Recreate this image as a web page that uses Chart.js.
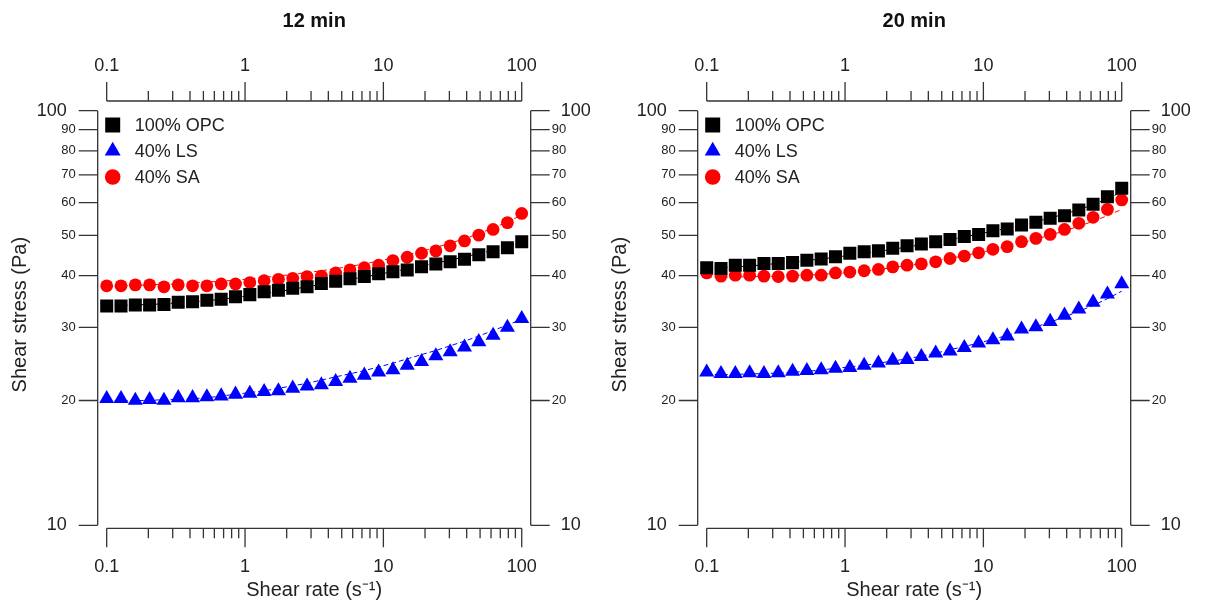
<!DOCTYPE html>
<html lang="en">

<head>
    <meta charset="utf-8">
    <title>Shear stress vs shear rate</title>
    <script src="https://cdn.jsdelivr.net/npm/chart.js"></script>
    <style>
        body { margin: 0; background: #fff; }
        #wrap { position: relative; width: 1206px; height: 608px; }
        #wrap canvas { position: absolute; top: 0; }
    </style>
</head>

<body>
    <div id="wrap">
        <canvas id="c12" width="600" height="608" style="left:0"></canvas>
        <canvas id="c20" width="600" height="608" style="left:600px"></canvas>
    </div>

    <script>
        // shear rate sweep, 30 points log-spaced 0.1 .. 100 1/s
        const shearRate = [0.1, 0.1269, 0.1610, 0.2043, 0.2593, 0.3290, 0.4175, 0.5298, 0.6723, 0.8532,
            1.083, 1.374, 1.743, 2.212, 2.807, 3.562, 4.520, 5.736, 7.279, 9.237,
            11.72, 14.87, 18.87, 23.95, 30.39, 38.57, 48.94, 62.10, 78.80, 100];

        const rateMajor = [0.1, 1, 10, 100];
        const rateMinor = [0.2, 0.3, 0.4, 0.5, 0.6, 0.7, 0.8, 0.9, 2, 3, 4, 5, 6, 7, 8, 9,
            20, 30, 40, 50, 60, 70, 80, 90];
        const stressTicks = [10, 20, 30, 40, 50, 60, 70, 80, 90, 100];
        const seriesNames = ['100% OPC', '40% LS', '40% SA'];

        // 12 min – measured shear stress (Pa)
        const opc12 = [33.8, 33.8, 34.0, 34.0, 34.1, 34.5, 34.6, 34.9, 35.1, 35.6, 36.0, 36.6, 36.9, 37.3, 37.6,
            38.3, 38.8, 39.3, 39.8, 40.4, 40.9, 41.3, 42.0, 42.7, 43.2, 43.8, 44.9, 45.7, 46.7, 48.3];
        const ls12 = [20.2, 20.2, 20.0, 20.1, 20.0, 20.3, 20.3, 20.4, 20.5, 20.7, 20.8, 21.0, 21.1, 21.4, 21.65,
            21.8, 22.2, 22.6, 23.0, 23.4, 23.7, 24.3, 24.8, 25.6, 26.2, 26.9, 27.7, 28.7, 30.0, 31.5];
        const sa12 = [37.8, 37.8, 38.0, 38.0, 37.6, 38.0, 37.8, 37.8, 38.2, 38.2, 38.5, 38.9, 39.2, 39.4, 39.8,
            39.9, 40.6, 41.3, 41.8, 42.4, 43.5, 44.3, 45.3, 45.9, 47.2, 48.5, 50.1, 51.7, 53.7, 56.5];
        // 12 min – model fits
        const opc12Fit = [33.9, 33.9, 34.0, 34.1, 34.2, 34.4, 34.6, 34.8, 35.1, 35.4, 35.8, 36.2, 36.6, 37.1, 37.6,
            38.1, 38.6, 39.2, 39.7, 40.3, 40.9, 41.5, 42.2, 42.9, 43.6, 44.4, 45.2, 46.1, 47.1, 48.2];
        const ls12Fit = [20.0, 20.0, 20.0, 20.0, 20.1, 20.1, 20.2, 20.3, 20.5, 20.7, 20.9, 21.1, 21.4, 21.7, 22.0,
            22.4, 22.8, 23.2, 23.6, 24.1, 24.6, 25.2, 25.8, 26.4, 27.1, 27.8, 28.6, 29.5, 30.4, 31.4];
        const sa12Fit = [37.8, 37.8, 37.9, 38.0, 38.1, 38.2, 38.4, 38.6, 38.8, 39.0, 39.3, 39.6, 39.9, 40.3, 40.7,
            41.1, 41.6, 42.1, 42.7, 43.4, 44.1, 44.9, 45.8, 46.8, 47.9, 49.1, 50.5, 52.1, 53.9, 56.0];

        // 20 min – measured shear stress (Pa)
        const opc20 = [41.8, 41.6, 42.4, 42.4, 42.8, 42.8, 43.0, 43.6, 43.9, 44.4, 45.3, 45.7, 45.9, 46.6, 47.2,
            47.7, 48.3, 48.9, 49.7, 50.3, 51.3, 51.8, 53.0, 53.8, 55.0, 55.8, 57.6, 59.5, 62.0, 65.0];
        const ls20 = [23.4, 23.2, 23.2, 23.3, 23.2, 23.3, 23.5, 23.6, 23.7, 23.9, 24.0, 24.3, 24.6, 25.0, 25.1,
            25.5, 26.0, 26.3, 26.8, 27.5, 28.0, 28.6, 29.7, 30.1, 31.0, 32.1, 33.2, 34.5, 36.1, 38.2];
        const sa20 = [40.6, 39.9, 40.1, 40.1, 39.9, 39.8, 39.9, 40.1, 40.1, 40.6, 40.8, 41.1, 41.4, 42.0, 42.4,
            42.7, 43.2, 44.0, 44.6, 45.4, 46.3, 47.0, 48.3, 49.2, 50.3, 51.7, 53.5, 55.3, 57.8, 60.9];
        // 20 min – model fits
        const opc20Fit = [41.6, 41.8, 42.0, 42.2, 42.5, 42.8, 43.1, 43.5, 43.9, 44.3, 44.8, 45.3, 45.8, 46.3, 46.9,
            47.5, 48.2, 48.9, 49.6, 50.4, 51.2, 52.1, 53.0, 54.0, 55.1, 56.3, 57.7, 59.3, 61.3, 63.7];
        const ls20Fit = [23.1, 23.1, 23.1, 23.2, 23.2, 23.3, 23.4, 23.5, 23.7, 23.9, 24.1, 24.3, 24.6, 24.9, 25.2,
            25.6, 26.0, 26.5, 27.0, 27.5, 28.1, 28.7, 29.4, 30.1, 30.9, 31.8, 32.8, 33.9, 35.2, 36.7];
        const sa20Fit = [39.7, 39.7, 39.7, 39.8, 39.8, 39.9, 40.0, 40.1, 40.3, 40.5, 40.7, 41.0, 41.4, 41.8, 42.3,
            42.8, 43.4, 44.0, 44.7, 45.4, 46.2, 47.1, 48.0, 49.0, 50.1, 51.3, 52.6, 54.1, 55.8, 57.8];

        const FONT = "'Liberation Sans', Arial, sans-serif";
        const TEXT = '#222';

        const markers = [
            { color: '#000000', shape: 'rect', r: 9.2, legendR: 10.6 },
            { color: '#0000ff', shape: 'triangle', r: 8.7, legendR: 9.2 },
            { color: '#ff0000', shape: 'circle', r: 6.4, legendR: 7.8 }
        ];

        // axis lines only span first..last tick, ticks point outwards
        const detachedAxes = {
            id: 'detachedAxes',
            beforeDatasetsDraw(chart) {
                const { ctx, chartArea: area, scales } = chart;
                ctx.save();
                ctx.strokeStyle = '#333';
                ctx.lineWidth = 1.3;
                ctx.beginPath();
                [['x', area.bottom, 1], ['x2', area.top, -1]].forEach(([id, py, dir]) => {
                    const s = scales[id];
                    ctx.moveTo(s.getPixelForValue(rateMajor[0]), py);
                    ctx.lineTo(s.getPixelForValue(rateMajor[rateMajor.length - 1]), py);
                    rateMajor.forEach(v => {
                        const px = s.getPixelForValue(v);
                        ctx.moveTo(px, py);
                        ctx.lineTo(px, py + dir * 19);
                    });
                    rateMinor.forEach(v => {
                        const px = s.getPixelForValue(v);
                        ctx.moveTo(px, py);
                        ctx.lineTo(px, py + dir * 10);
                    });
                });
                [['y', area.left, -1], ['y2', area.right, 1]].forEach(([id, px, dir]) => {
                    const s = scales[id];
                    ctx.moveTo(px, s.getPixelForValue(stressTicks[0]));
                    ctx.lineTo(px, s.getPixelForValue(stressTicks[stressTicks.length - 1]));
                    stressTicks.forEach(v => {
                        const py = s.getPixelForValue(v);
                        ctx.moveTo(px, py);
                        ctx.lineTo(px + dir * 19, py);
                    });
                });
                ctx.stroke();
                ctx.restore();
            }
        };

        // legend in the top-left corner of the plot area
        const insetLegend = {
            id: 'insetLegend',
            afterDatasetsDraw(chart) {
                const { ctx, chartArea: area } = chart;
                ctx.save();
                ctx.font = '18px ' + FONT;
                ctx.textBaseline = 'middle';
                seriesNames.forEach((name, i) => {
                    const m = markers[i];
                    const cx = area.left + 15;
                    const cy = area.top + 24 + i * 26;
                    ctx.fillStyle = m.color;
                    Chart.helpers.drawPoint(ctx, { pointStyle: m.shape, radius: m.legendR, rotation: 0, borderWidth: 0 }, cx, cy);
                    ctx.fillStyle = TEXT;
                    ctx.fillText(name, area.left + 37, cy + 1);
                });
                ctx.restore();
            }
        };

        function rateScale(position, height, padding, title) {
            return {
                type: 'logarithmic',
                position: position,
                min: 0.0861,
                max: 116.1,
                bounds: 'data',
                grid: { display: false, drawTicks: false },
                border: { display: false },
                afterBuildTicks: s => { s.ticks = rateMajor.map(v => ({ value: v })); },
                afterFit: s => { s.height = height; },
                ticks: {
                    autoSkip: false,
                    maxRotation: 0,
                    padding: padding,
                    color: TEXT,
                    font: { family: FONT, size: 18 },
                    callback: v => String(v)
                },
                title: title
            };
        }

        function stressScale(position, width, label, title) {
            return {
                type: 'logarithmic',
                position: position,
                min: 9.835,
                max: 105.5,
                bounds: 'data',
                grid: { display: false, drawTicks: false },
                border: { display: false },
                afterBuildTicks: s => { s.ticks = stressTicks.map(v => ({ value: v })); },
                afterFit: s => { s.width = width; },
                ticks: {
                    autoSkip: false,
                    padding: position === 'left' ? 22 : 21,
                    color: TEXT,
                    font: c => ({ family: FONT, size: (c.tick && (c.tick.value === 10 || c.tick.value === 100)) ? 18 : 13 }),
                    callback: label
                },
                title: title
            };
        }

        function makePanel(canvasId, heading, measured, fits) {
            const pts = vals => shearRate.map((r, i) => ({ x: r, y: vals[i] }));
            const datasets = [];
            measured.forEach((vals, i) => {
                const m = markers[i];
                datasets.push({
                    label: seriesNames[i],
                    data: pts(vals),
                    showLine: false,
                    pointStyle: m.shape,
                    pointRadius: m.r,
                    pointHoverRadius: m.r,
                    backgroundColor: m.color,
                    borderColor: m.color,
                    pointBorderWidth: 0
                });
            });
            fits.forEach((vals, i) => {
                datasets.push({
                    label: seriesNames[i] + ' fit',
                    data: pts(vals),
                    showLine: true,
                    borderColor: markers[i].color,
                    borderWidth: 1,
                    borderDash: [5, 3],
                    pointRadius: 0,
                    fill: false
                });
            });

            new Chart(document.getElementById(canvasId), {
                type: 'scatter',
                data: { datasets: datasets },
                options: {
                    responsive: false,
                    animation: false,
                    devicePixelRatio: 1,
                    events: [],
                    layout: { padding: 0 },
                    plugins: { legend: { display: false }, tooltip: { enabled: false } },
                    scales: {
                        x: rateScale('bottom', 79.7, 28, {
                            display: true, text: 'Shear rate (s\u207B\u00B9)', color: TEXT,
                            font: { family: FONT, size: 20 }, padding: { top: 0, bottom: 6 }
                        }),
                        x2: rateScale('top', 101, 24, {
                            display: true, text: heading, color: '#111',
                            font: { family: FONT, size: 20, weight: 'bold' }, padding: { top: 9, bottom: 0 }
                        }),
                        y: stressScale('left', 97.7, v => (v === 10 || v === 100) ? v + '\u2002' : String(v), {
                            display: true, text: 'Shear stress (Pa)', color: TEXT,
                            font: { family: FONT, size: 20 }, padding: { top: 8, bottom: 0 }
                        }),
                        y2: stressScale('right', 69.3, v => (v === 10 || v === 100) ? '\u2002' + v : String(v), { display: false })
                    }
                },
                plugins: [detachedAxes, insetLegend]
            });
        }

        makePanel('c12', '12 min', [opc12, ls12, sa12], [opc12Fit, ls12Fit, sa12Fit]);
        makePanel('c20', '20 min', [opc20, ls20, sa20], [opc20Fit, ls20Fit, sa20Fit]);
    </script>
</body>

</html>
